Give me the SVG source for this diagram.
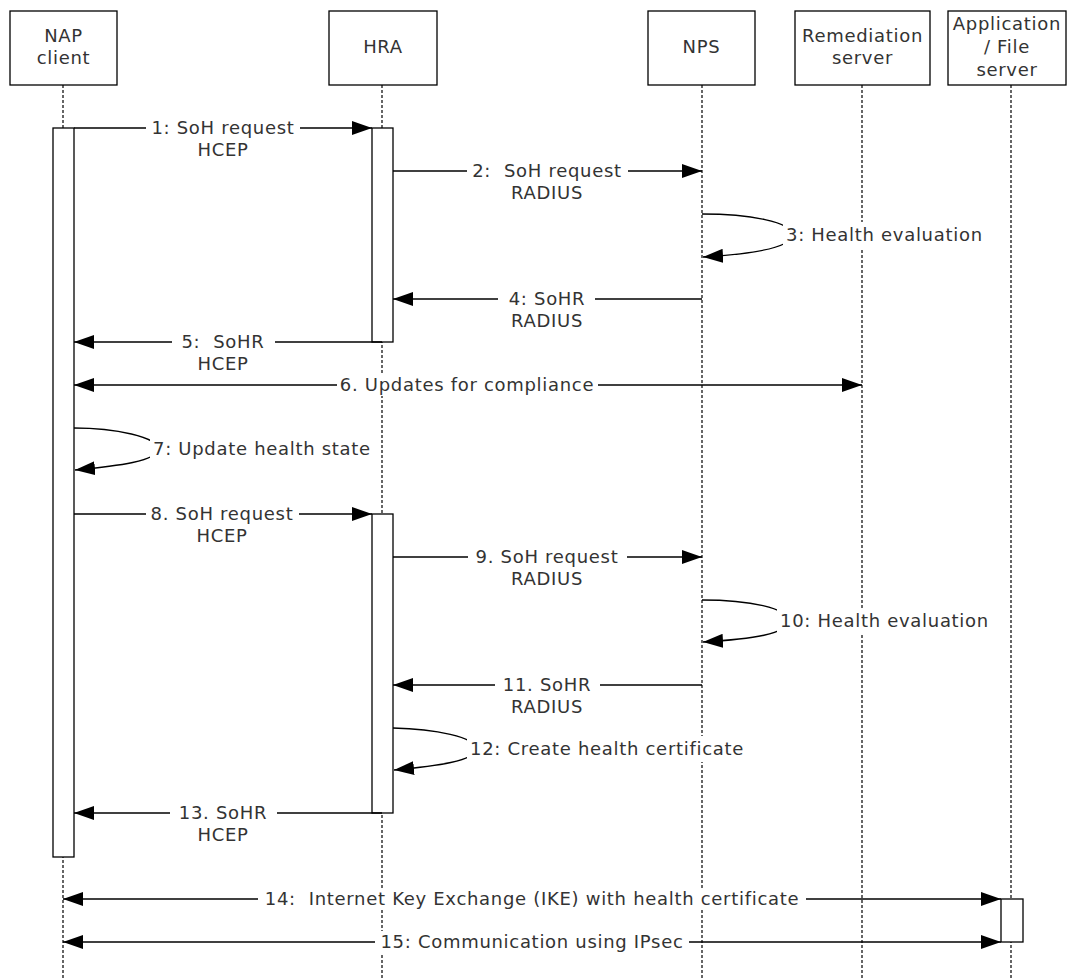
<svg xmlns="http://www.w3.org/2000/svg" width="1067" height="980" viewBox="0 0 1067 980">
<style>
text{font-family:"DejaVu Sans","Verdana",sans-serif;font-size:18px;fill:#333;letter-spacing:0.7px}
.m{text-anchor:middle}
.box{fill:#fff;stroke:#000;stroke-width:1.3}
.life{stroke:#000;stroke-width:1.2;stroke-dasharray:3 2;fill:none}
.act{fill:#fff;stroke:#000;stroke-width:1.3}
.msg{stroke:#000;stroke-width:1.3;fill:none;marker-end:url(#ah)}
.bi{marker-start:url(#ah)}
.bg{fill:#fff}
</style>
<defs>
<marker id="ah" viewBox="0 0 20 14" refX="20" refY="7" markerWidth="20" markerHeight="14" markerUnits="userSpaceOnUse" orient="auto-start-reverse">
<path d="M0,0 L20,7 L0,14 z" fill="#000"/>
</marker>
</defs>
<rect width="1067" height="980" fill="#fff"/>

<g id="lifelines">
<line class="life" x1="63" y1="85" x2="63" y2="980"/>
<line class="life" x1="382" y1="85" x2="382" y2="980"/>
<line class="life" x1="702" y1="85" x2="702" y2="980"/>
<line class="life" x1="862" y1="85" x2="862" y2="980"/>
<line class="life" x1="1011" y1="85" x2="1011" y2="980"/>
</g>

<g id="nap-client">
<rect class="box" x="10" y="11" width="107" height="74"/>
<text class="m" x="63.5" y="42">NAP</text>
<text class="m" x="63.5" y="64">client</text>
<rect class="act" x="53" y="128" width="21" height="729"/>
</g>
<g id="hra">
<rect class="box" x="329" y="11" width="108" height="74"/>
<text class="m" x="383" y="53">HRA</text>
<rect class="act" x="372" y="128" width="21" height="214"/>
<rect class="act" x="372" y="514" width="21" height="299"/>
</g>
<g id="nps">
<rect class="box" x="648" y="11" width="107" height="74"/>
<text class="m" x="701.5" y="53">NPS</text>
</g>
<g id="remediation-server">
<rect class="box" x="795" y="11" width="135" height="74"/>
<text class="m" x="862.5" y="42">Remediation</text>
<text class="m" x="862.5" y="64">server</text>
</g>
<g id="application-file-server">
<rect class="box" x="948" y="11" width="118" height="74"/>
<text class="m" x="1007" y="30">Application</text>
<text class="m" x="1007" y="53">/ File</text>
<text class="m" x="1007" y="76">server</text>
<rect class="act" x="1001" y="899" width="22" height="43"/>
</g>

<g id="connectors">
<!-- 1 -->
<line class="msg" x1="74" y1="128" x2="372" y2="128"/>
<rect class="bg" x="146" y="117" width="154" height="22"/>
<text class="m" x="223" y="134">1: SoH request</text>
<text class="m" x="223" y="156">HCEP</text>
<!-- 2 -->
<line class="msg" x1="393" y1="171" x2="702" y2="171"/>
<rect class="bg" x="467" y="160" width="161" height="22"/>
<text class="m" x="547" y="177" xml:space="preserve">2:  SoH request</text>
<text class="m" x="547" y="199">RADIUS</text>
<!-- 3 -->
<path class="msg" d="M702,214 C750,214 792,222 792,235 C792,248 752,254 703,257"/>
<rect class="bg" x="783" y="222" width="202" height="26"/>
<text x="786" y="241">3: Health evaluation</text>
<!-- 4 -->
<line class="msg" x1="702" y1="299" x2="393" y2="299"/>
<rect class="bg" x="498" y="288" width="97" height="22"/>
<text class="m" x="547" y="305">4: SoHR</text>
<text class="m" x="547" y="327">RADIUS</text>
<!-- 5 -->
<line class="msg" x1="382" y1="342" x2="74" y2="342"/>
<rect class="bg" x="172" y="331" width="103" height="22"/>
<text class="m" x="223" y="348" xml:space="preserve">5:  SoHR</text>
<text class="m" x="223" y="370">HCEP</text>
<!-- 6 -->
<line class="msg bi" x1="74" y1="385" x2="862" y2="385"/>
<rect class="bg" x="337" y="374" width="261" height="22"/>
<text class="m" x="467" y="391">6. Updates for compliance</text>
<!-- 7 -->
<path class="msg" d="M74,428 C115,428 158,437 158,449 C158,461 118,466 75,470"/>
<rect class="bg" x="150" y="436" width="224" height="26"/>
<text x="153" y="455">7: Update health state</text>
<!-- 8 -->
<line class="msg" x1="74" y1="514" x2="372" y2="514"/>
<rect class="bg" x="146" y="503" width="153" height="22"/>
<text class="m" x="222" y="520">8. SoH request</text>
<text class="m" x="222" y="542">HCEP</text>
<!-- 9 -->
<line class="msg" x1="393" y1="557" x2="702" y2="557"/>
<rect class="bg" x="468" y="546" width="159" height="22"/>
<text class="m" x="547" y="563">9. SoH request</text>
<text class="m" x="547" y="585">RADIUS</text>
<!-- 10 -->
<path class="msg" d="M702,600 C750,600 788,608 788,621 C788,634 752,639 703,642"/>
<rect class="bg" x="777" y="608" width="217" height="26"/>
<text x="780" y="627">10: Health evaluation</text>
<!-- 11 -->
<line class="msg" x1="702" y1="685" x2="393" y2="685"/>
<rect class="bg" x="495" y="674" width="105" height="22"/>
<text class="m" x="547" y="691">11. SoHR</text>
<text class="m" x="547" y="713">RADIUS</text>
<!-- 12 -->
<path class="msg" d="M393,728 C435,729 476,737 476,749 C476,761 436,766 394,770"/>
<rect class="bg" x="467" y="736" width="285" height="26"/>
<text x="470" y="755">12: Create health certificate</text>
<!-- 13 -->
<line class="msg" x1="382" y1="813" x2="74" y2="813"/>
<rect class="bg" x="170" y="802" width="107" height="22"/>
<text class="m" x="223" y="819">13. SoHR</text>
<text class="m" x="223" y="841">HCEP</text>
<!-- 14 -->
<line class="msg bi" x1="63" y1="899" x2="1001" y2="899"/>
<rect class="bg" x="258" y="888" width="548" height="22"/>
<text class="m" x="532" y="905" xml:space="preserve">14:  Internet Key Exchange (IKE) with health certificate</text>
<!-- 15 -->
<line class="msg bi" x1="63" y1="942" x2="1001" y2="942"/>
<rect class="bg" x="375" y="931" width="314" height="22"/>
<text class="m" x="532" y="948">15: Communication using IPsec</text>
</g>
</svg>
